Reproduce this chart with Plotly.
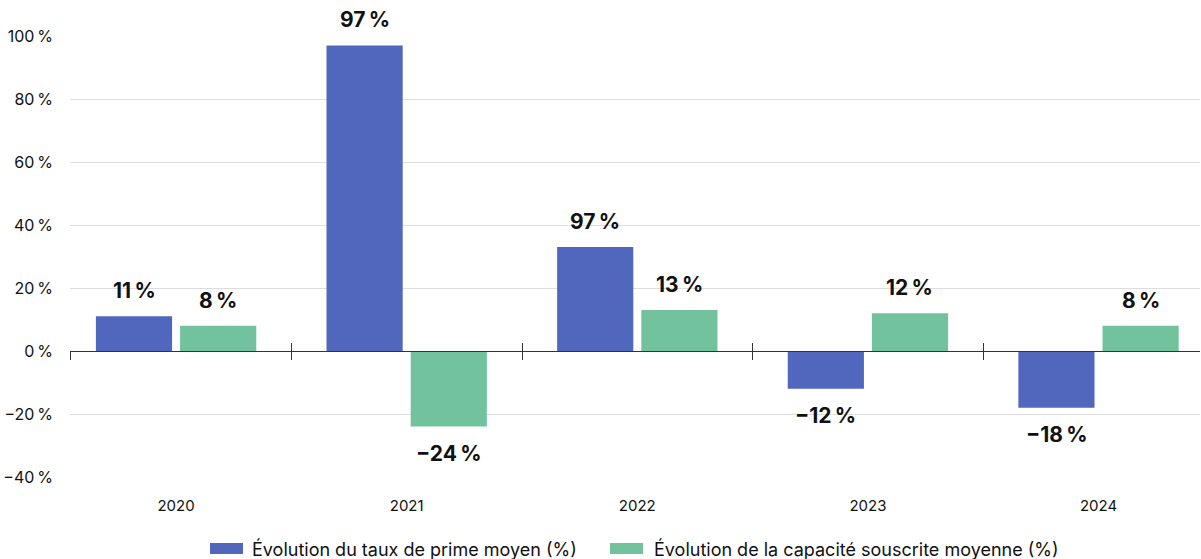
import plotly.graph_objects as go

ANNEES = ["2020", "2021", "2022", "2023", "2024"]
TAUX_PRIME = [11, 97, 33, -12, -18]
CAPACITE = [8, -24, 13, 12, 8]
ETIQ_TAUX = ["11 %", "97 %", "97 %", "−12 %", "−18 %"]
ETIQ_CAPA = ["8 %", "−24 %", "13 %", "12 %", "8 %"]
NOMS = ["Évolution du taux de prime moyen (%)", "Évolution de la capacité souscrite moyenne (%)"]

BLEU = "#5067bd"
VERT = "#72c39d"
TEXTE = "#111111"
POLICE = "Inter, Roboto, sans-serif"

Y_MIN, Y_MAX = -40, 100

fig = go.Figure()
series = [
    (NOMS[0], TAUX_PRIME, ETIQ_TAUX, BLEU, -42),
    (NOMS[1], CAPACITE, ETIQ_CAPA, VERT, 42),
]
for nom, valeurs, etiq, couleur, decalage in series:
    fig.add_trace(go.Bar(
        name=nom,
        x=ANNEES,
        y=valeurs,
        marker=dict(color=couleur, line=dict(width=0)),
        showlegend=False,
        hoverinfo="skip",
    ))
    # étiquettes de valeur (index de catégorie pour l'axe x)
    for i, (v, e) in enumerate(zip(valeurs, etiq)):
        fig.add_annotation(
            x=i, y=v, text=e.replace(" ", "\u202f"),
            xshift=decalage, yshift=11 if v >= 0 else -12,
            yanchor="bottom" if v >= 0 else "top",
            showarrow=False,
            font=dict(family=POLICE, size=21, color=TEXTE, weight="bold"),
        )

# axes invisibles portant la ligne du zéro et ses graduations
pos_zero = (0 - Y_MIN) / (Y_MAX - Y_MIN)
graduations = [-0.46, 0.5, 1.5, 2.5, 3.5]
for ax in ["x2", "x3"]:
    fig.add_trace(go.Scatter(x=[None], y=[None], xaxis=ax, showlegend=False, hoverinfo="skip"))

axe_zero = dict(
    overlaying="x", anchor="free", position=pos_zero,
    type="linear", range=[-0.46, 4.44],
    tickvals=graduations,
    showticklabels=False, showgrid=False, zeroline=False,
    ticklen=8, tickcolor="#333333", tickwidth=1,
)

# légende dessinée à la main (pavés larges)
legende = [(NOMS[0], BLEU, 210, 250), (NOMS[1], VERT, 610, 652)]
for nom, couleur, x_pave, x_texte in legende:
    fig.add_shape(
        type="rect", xref="paper", yref="paper",
        x0=(x_pave - 70) / 1130, x1=(x_pave + 33 - 70) / 1130,
        y0=-(554 - 477) / 441, y1=-(543 - 477) / 441,
        fillcolor=couleur, line=dict(width=0),
    )
    fig.add_annotation(
        xref="paper", yref="paper", x=(x_texte - 70) / 1130, y=-(548.5 - 477) / 441,
        xanchor="left", yanchor="middle", text=nom, showarrow=False,
        font=dict(family=POLICE, size=18, color=TEXTE),
    )

fig.update_layout(
    width=1201, height=559,
    margin=dict(l=70, r=1, t=36, b=82, autoexpand=False),
    paper_bgcolor="white",
    plot_bgcolor="white",
    barmode="group",
    bargap=0.27,
    bargroupgap=0.095,
    showlegend=False,
    font=dict(family=POLICE, size=15, color=TEXTE),
    xaxis=dict(
        type="category", range=[-0.46, 4.44], showgrid=False, showline=False, ticks="",
        ticklabelstandoff=18, tickfont=dict(size=15, color=TEXTE),
    ),
    xaxis2=dict(axe_zero, ticks="outside", showline=True, linecolor="#333333", linewidth=1),
    xaxis3=dict(axe_zero, ticks="inside", showline=False),
    yaxis=dict(
        range=[Y_MIN, Y_MAX], dtick=20, tick0=0,
        ticksuffix="\u202f%", showgrid=True, gridcolor="#dddddd",
        zeroline=False, showline=False, ticks="", ticklabelstandoff=16,
        tickfont=dict(size=16, color=TEXTE),
    ),
)

fig.write_html(
    "out.html",
    config={"displayModeBar": False},
    post_script="document.body.style.margin='0';",
)
